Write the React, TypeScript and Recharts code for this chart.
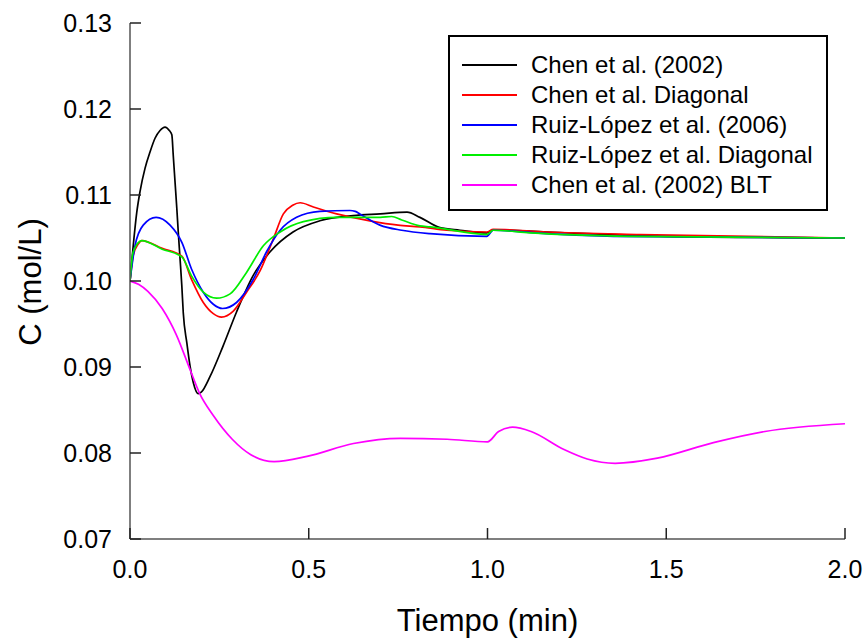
import { LineChart, Line, XAxis, YAxis, Legend, Label } from "recharts";

// time (min) and concentration (mol/L)
const chenTime = [0, 0.009, 0.019, 0.028, 0.042, 0.056, 0.07, 0.084, 0.098, 0.11, 0.117, 0.121, 0.126, 0.131, 0.135, 0.14, 0.145, 0.149, 0.159, 0.168, 0.177, 0.191, 0.2, 0.224, 0.26, 0.298, 0.344, 0.392, 0.456, 0.531, 0.624, 0.7, 0.775, 0.811, 0.867, 0.923, 0.998, 1.015, 1.166, 1.5, 2.0];
const chenConc = [0.1, 0.1041, 0.108, 0.1104, 0.1131, 0.115, 0.1166, 0.1175, 0.1179, 0.1175, 0.117, 0.1146, 0.1115, 0.1084, 0.1057, 0.1026, 0.0994, 0.0963, 0.0928, 0.0901, 0.0882, 0.0869, 0.0871, 0.0889, 0.0924, 0.0964, 0.1006, 0.1034, 0.1057, 0.107, 0.1076, 0.1078, 0.108, 0.1074, 0.1062, 0.1059, 0.1056, 0.10595, 0.1057, 0.1052, 0.105];

const chenDiagTime = [0, 0.009, 0.023, 0.033, 0.09, 0.145, 0.172, 0.205, 0.233, 0.256, 0.289, 0.326, 0.364, 0.401, 0.429, 0.455, 0.476, 0.513, 0.578, 0.671, 0.75, 0.811, 0.886, 0.998, 1.016, 1.166, 1.427, 2.0];
const chenDiagConc = [0.1, 0.103, 0.1043, 0.1047, 0.1038, 0.1029, 0.1002, 0.0975, 0.0962, 0.0958, 0.0965, 0.0987, 0.1012, 0.1049, 0.1078, 0.1088, 0.1091, 0.1086, 0.1078, 0.107, 0.1065, 0.1063, 0.1059, 0.1057, 0.106, 0.1057, 0.1054, 0.105];

const ruizTime = [0, 0.014, 0.037, 0.073, 0.112, 0.145, 0.172, 0.205, 0.233, 0.259, 0.298, 0.345, 0.382, 0.42, 0.466, 0.531, 0.615, 0.63, 0.643, 0.699, 0.76, 0.839, 0.998, 1.016, 1.166, 1.352, 2.0];
const ruizConc = [0.1, 0.1041, 0.1065, 0.1074, 0.1065, 0.1045, 0.1014, 0.0987, 0.0973, 0.0968, 0.0975, 0.1002, 0.1034, 0.1059, 0.1074, 0.1081, 0.1082, 0.1081, 0.1078, 0.1065, 0.1059, 0.1055, 0.1052, 0.1059, 0.1055, 0.1052, 0.105];

const ruizDiagTime = [0, 0.009, 0.033, 0.09, 0.145, 0.172, 0.205, 0.242, 0.28, 0.326, 0.373, 0.42, 0.485, 0.578, 0.7, 0.732, 0.76, 0.811, 0.839, 0.998, 1.016, 1.119, 1.4, 2.0];
const ruizDiagConc = [0.1, 0.1034, 0.1047, 0.1037, 0.1028, 0.1006, 0.0987, 0.098, 0.0985, 0.101, 0.1041, 0.1057, 0.1069, 0.1074, 0.1074, 0.1075, 0.1071, 0.1064, 0.1063, 0.1054, 0.1059, 0.1056, 0.1052, 0.105];

const bltTime = [0, 0.025, 0.05, 0.09, 0.129, 0.168, 0.194, 0.234, 0.286, 0.338, 0.403, 0.495, 0.625, 0.756, 0.887, 1.0, 1.031, 1.07, 1.122, 1.214, 1.279, 1.357, 1.475, 1.632, 1.776, 2.0];
const bltConc = [0.1, 0.0996, 0.0988, 0.0968, 0.0938, 0.0897, 0.087, 0.0843, 0.0816, 0.0798, 0.079, 0.0796, 0.0811, 0.0817, 0.0816, 0.0813, 0.0825, 0.083, 0.0825, 0.0804, 0.0793, 0.0788, 0.0794, 0.0812, 0.0825, 0.0834];

const xTicks = [0, 0.5, 1.0, 1.5, 2.0];
const yTicks = [0.07, 0.08, 0.09, 0.1, 0.11, 0.12, 0.13];

const zip = (t: number[], c: number[]) => t.map((v, i) => ({ t: v, c: c[i] }));

const series = [
  { name: "Chen et al. (2002)", color: "#000000", data: zip(chenTime, chenConc) },
  { name: "Chen et al. Diagonal", color: "#ff0000", data: zip(chenDiagTime, chenDiagConc) },
  { name: "Ruiz-López et al. (2006)", color: "#0000ff", data: zip(ruizTime, ruizConc) },
  { name: "Ruiz-López et al. Diagonal", color: "#00ee00", data: zip(ruizDiagTime, ruizDiagConc) },
  { name: "Chen et al. (2002) BLT", color: "#ff00ff", data: zip(bltTime, bltConc) },
];

const FONT = "'Liberation Sans', Arial, sans-serif";
const TICK_LEN = 11;

const BottomTick = ({ x, y, payload }: any) => (
  <g>
    <line x1={x} y1={y} x2={x} y2={y - TICK_LEN} stroke="#222" strokeWidth={1.5} />
    <text x={x} y={y + 39} textAnchor="middle" fontSize={25} fontFamily={FONT} fill="#000">
      {Number(payload.value).toFixed(1)}
    </text>
  </g>
);

const TopTick = ({ x, y }: any) => (
  <line x1={x} y1={y} x2={x} y2={y + TICK_LEN} stroke="#222" strokeWidth={1.5} />
);

const LeftTick = ({ x, y, payload }: any) => (
  <g>
    <line x1={x} y1={y} x2={x + TICK_LEN} y2={y} stroke="#222" strokeWidth={1.5} />
    <text x={x - 18} y={y + 9} textAnchor="end" fontSize={25} fontFamily={FONT} fill="#000">
      {Number(payload.value).toFixed(2)}
    </text>
  </g>
);

const RightTick = ({ x, y }: any) => (
  <line x1={x} y1={y} x2={x - TICK_LEN} y2={y} stroke="#222" strokeWidth={1.5} />
);

const renderLegend = () => (
  <div
    style={{
      border: "2px solid #000",
      background: "#fff",
      boxSizing: "border-box",
      width: 380,
      height: 176,
      paddingTop: 13,
      fontFamily: FONT,
      fontSize: 24,
    }}
  >
    {series.map((s) => (
      <div key={s.name} style={{ display: "flex", alignItems: "center", height: 30 }}>
        <div style={{ width: 55, height: 2, background: s.color, marginLeft: 12, marginRight: 14 }} />
        <span style={{ color: "#000", whiteSpace: "nowrap" }}>{s.name}</span>
      </div>
    ))}
  </div>
);

export default function App() {
  return (
    <div style={{ position: "absolute", left: 0, top: 0, background: "#fff" }}>
      <LineChart width={866} height={639} margin={{ top: 23, right: 21, left: 0, bottom: 0 }}>
        <XAxis
          xAxisId="bottom"
          dataKey="t"
          type="number"
          domain={[0, 2]}
          ticks={xTicks}
          allowDataOverflow
          height={100}
          tickSize={0}
          tickMargin={0}
          tickLine={false}
          tick={<BottomTick />}
          interval={0}
          stroke="#555"
          strokeWidth={1.5}
        >
          <Label
            content={() => (
              <text x={487.5} y={631} textAnchor="middle" fontSize={31} fontFamily={FONT} fill="#000">
                Tiempo (min)
              </text>
            )}
          />
        </XAxis>
        <XAxis
          xAxisId="top"
          orientation="top"
          dataKey="t"
          type="number"
          domain={[0, 2]}
          ticks={xTicks}
          allowDataOverflow
          height={0}
          tickSize={0}
          tickMargin={0}
          tickLine={false}
          tick={<TopTick />}
          interval={0}
          stroke="#555"
          strokeWidth={1.5}
        />
        <YAxis
          yAxisId="left"
          type="number"
          domain={[0.07, 0.13]}
          ticks={yTicks}
          allowDataOverflow
          width={130}
          tickSize={0}
          tickMargin={0}
          tickLine={false}
          tick={<LeftTick />}
          interval={0}
          stroke="#555"
          strokeWidth={1.5}
        >
          <Label
            content={() => (
              <text
                transform="translate(41,282) rotate(-90)"
                textAnchor="middle"
                fontSize={31}
                fontFamily={FONT}
                fill="#000"
              >
                C (mol/L)
              </text>
            )}
          />
        </YAxis>
        <YAxis
          yAxisId="right"
          orientation="right"
          type="number"
          domain={[0.07, 0.13]}
          ticks={yTicks}
          allowDataOverflow
          width={0}
          tickSize={0}
          tickMargin={0}
          tickLine={false}
          tick={<RightTick />}
          interval={0}
          stroke="#555"
          strokeWidth={1.5}
        />
        <Legend
          layout="horizontal"
          verticalAlign="middle"
          align="center"
          content={renderLegend}
          wrapperStyle={{ left: 448, top: 35, width: 380, height: 176 }}
        />
        {series.map((s) => (
          <Line
            key={s.name}
            xAxisId="bottom"
            yAxisId="left"
            data={s.data}
            dataKey="c"
            name={s.name}
            type="monotone"
            stroke={s.color}
            strokeWidth={1.7}
            dot={false}
            activeDot={false}
            isAnimationActive={false}
          />
        ))}
      </LineChart>
    </div>
  );
}
